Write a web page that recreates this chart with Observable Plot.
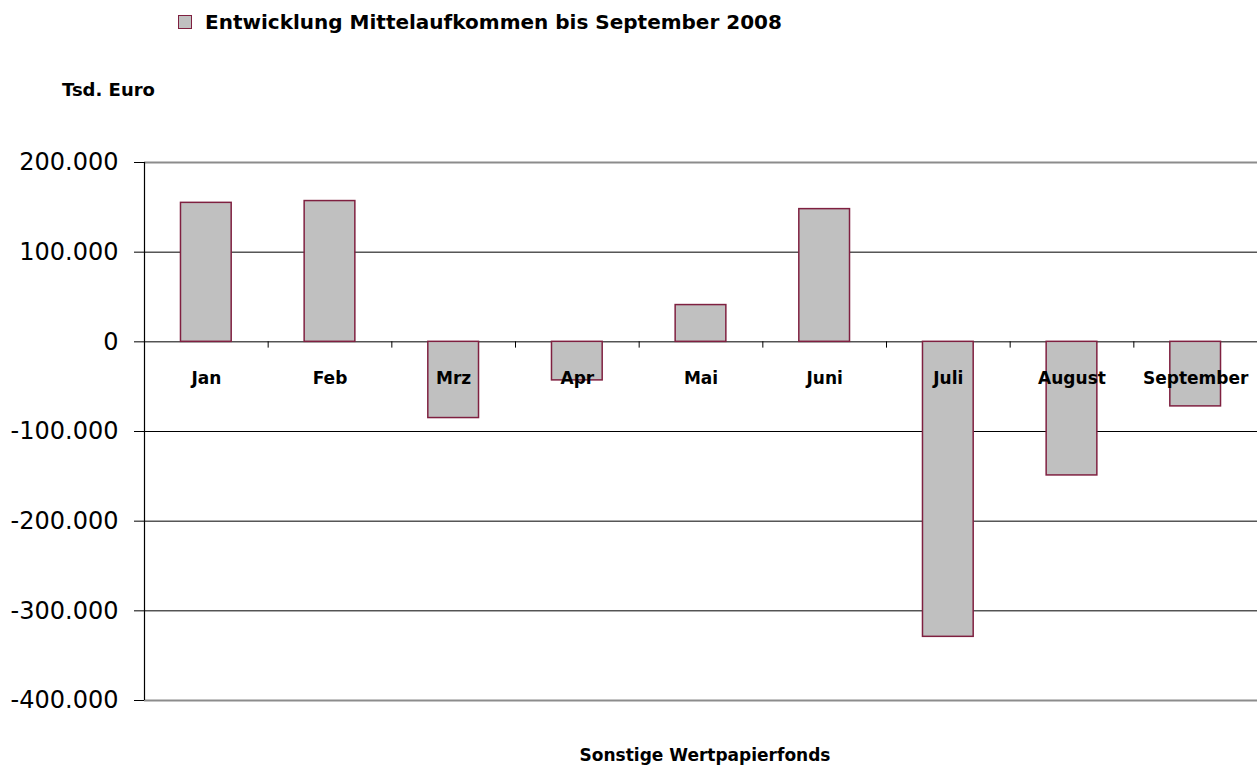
<!DOCTYPE html>
<html><head><meta charset="utf-8">
<script src="https://cdn.jsdelivr.net/npm/d3@7"></script>
<script src="https://cdn.jsdelivr.net/npm/@observablehq/plot@0.6"></script>
<style>
body{margin:0;background:#fff;}
#wrap{position:relative;width:1257px;height:772px;font-family:"DejaVu Sans",sans-serif;}
#wrap svg{position:absolute;left:0;top:0;}
.t{position:absolute;font-weight:bold;color:#000;white-space:nowrap;line-height:1;}
#sw{position:absolute;left:178px;top:15px;width:12px;height:12px;background:#c0c0c0;border:1.5px solid #7f2040;}
#legend{left:205px;top:12px;font-size:20px;}
#unit{left:62px;top:81px;font-size:18px;}
#title{left:0;width:1410px;text-align:center;top:747px;font-size:17px;}
</style></head>
<body><div id="wrap">
<div id="sw"></div>
<div class="t" id="legend"></div>
<div class="t" id="unit"></div>
<div class="t" id="title"></div>
</div>
<script>
const months = ["Jan","Feb","Mrz","Apr","Mai","Juni","Juli","August","September"];
const values = [155000, 157000, -85000, -43000, 41000, 148000, -329000, -149000, -72000];
const yTicks = [-400000,-300000,-200000,-100000,0,100000,200000];
const innerGrid = [-300000,-200000,-100000,0,100000];
const legendLabel = "Entwicklung Mittelaufkommen bis September 2008";
const unitLabel = "Tsd. Euro";
const titleLabel = "Sonstige Wertpapierfonds";

document.getElementById("legend").textContent = legendLabel;
document.getElementById("unit").textContent = unitLabel;
document.getElementById("title").textContent = titleLabel;

const data = months.map((m,i)=>({month:m, value:values[i]}));
const W = 1257, H = 772, mL = 144, mR = 0, mT = 162, mB = 72;
const step = (W - mL - mR) / months.length;
const fmt = d => (d < 0 ? "-" : "") + d3.format(",")(Math.abs(d)).replace(/,/g, ".");

const chart = Plot.plot({
  width: W, height: H,
  marginLeft: mL, marginRight: mR, marginTop: mT, marginBottom: mB,
  style: {fontFamily: "DejaVu Sans, sans-serif", background: "transparent"},
  x: {domain: months, paddingInner: 0.59, paddingOuter: 0.295, round: false, axis: null},
  y: {domain: [-400000, 200000], ticks: yTicks, tickFormat: fmt, label: null},
  marks: [
    Plot.ruleY(innerGrid, {stroke: "#000", strokeWidth: 1}),
    Plot.ruleY([200000, -400000], {stroke: "#8c8c8c", strokeWidth: 2}),
    Plot.ruleX(months.slice(1), {x: d => d, y1: 0, y2: -7000, dx: -step/2, stroke: "#000", strokeWidth: 1}),
    Plot.barY(data, {x: "month", y: "value", fill: "#c0c0c0", stroke: "#7f2040", strokeWidth: 1.5}),
    Plot.text(data, {x: "month", y: () => 0, text: "month", dy: 37, fontWeight: "bold", fontSize: 17, fill: "#000"}),
    Plot.axisY({ticks: yTicks, tickFormat: fmt, tickSize: 10, tickPadding: 16, fontSize: 24, label: null, stroke: "#000"}),
    Plot.ruleX([0], {x: () => months[0], dx: -step/2, y1: -400000, y2: 200000, stroke: "#000", strokeWidth: 1.2})
  ]
});
document.getElementById("wrap").prepend(chart);
</script>
</body></html>
